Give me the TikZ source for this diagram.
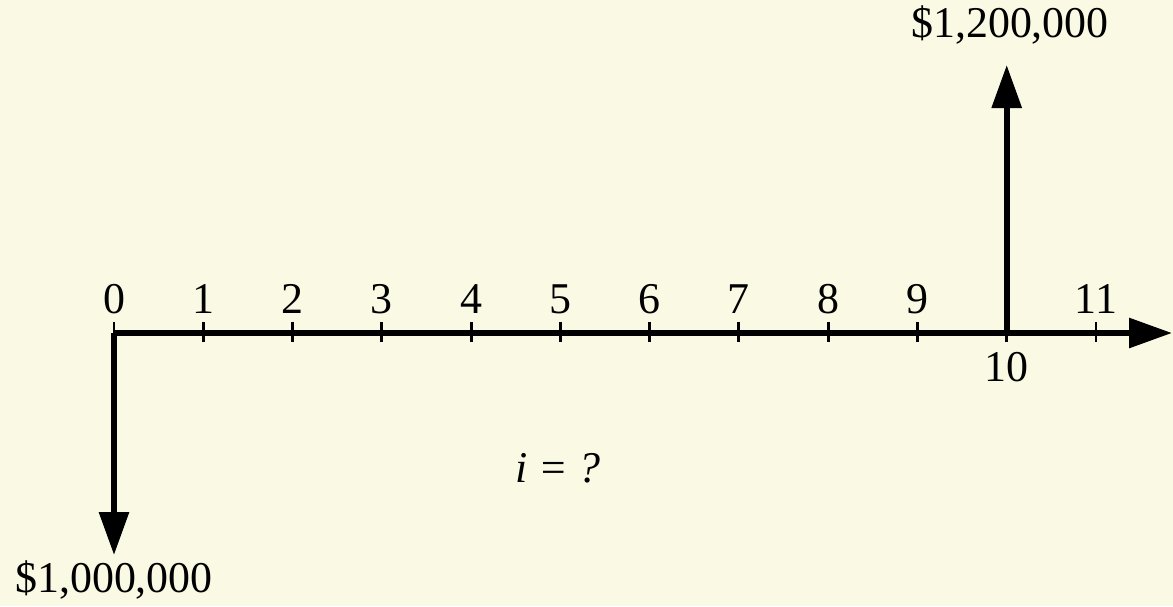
\documentclass[tikz,border=0pt]{standalone}
\usepackage{fontspec}
\setmainfont{Liberation Serif}
\usetikzlibrary{arrows, arrows.meta}
\definecolor{paper}{RGB}{250,249,228}

\begin{document}
\begin{tikzpicture}[
		flow/.style={line width=1.7pt, -{Triangle[width=0.29cm,length=0.43cm]}},
		tickmark/.style={line width=0.85pt},
		lbl/.style={font=\fontsize{12.5}{15}\selectfont, inner sep=0pt}
	]
	
	\fill[paper] (-1.14,-2.73) rectangle (10.59,3.33);
	\useasboundingbox (-1.14,-2.73) rectangle (10.59,3.33);
	
	\coordinate (o) at (0,0);
	\coordinate (axisend) at (10.58,0);
	\coordinate (outtip) at (0,-2.22);
	\coordinate (intip) at (8.927,2.68);
	\coordinate (inbase) at (8.927,0);
	
	% ticks and period numbers
	\foreach \i in {0,...,11}{
		\draw[tickmark] (0.8927*\i,0.11) -- (0.8927*\i,-0.09);
	}
	\foreach \i in {0,...,9,11}{
		\node[lbl] (p\i) at (0.8927*\i,0.34) {\i};
	}
	\node[lbl] (p10) at (8.927,-0.34) {10};
	
	% cash flows
	\draw[flow] (o) -- (axisend);
	\draw[flow] (o) -- (outtip);
	\draw[flow] (inbase) -- (intip);
	
	\node[lbl] (out) at (0,-2.47) {\$1,000,000};
	\node[lbl] (in) at (8.96,3.08) {\$1,200,000};
	\node[lbl] (rate) at (4.44,-1.35) {\textit{i = ?}};
\end{tikzpicture}
\end{document}
